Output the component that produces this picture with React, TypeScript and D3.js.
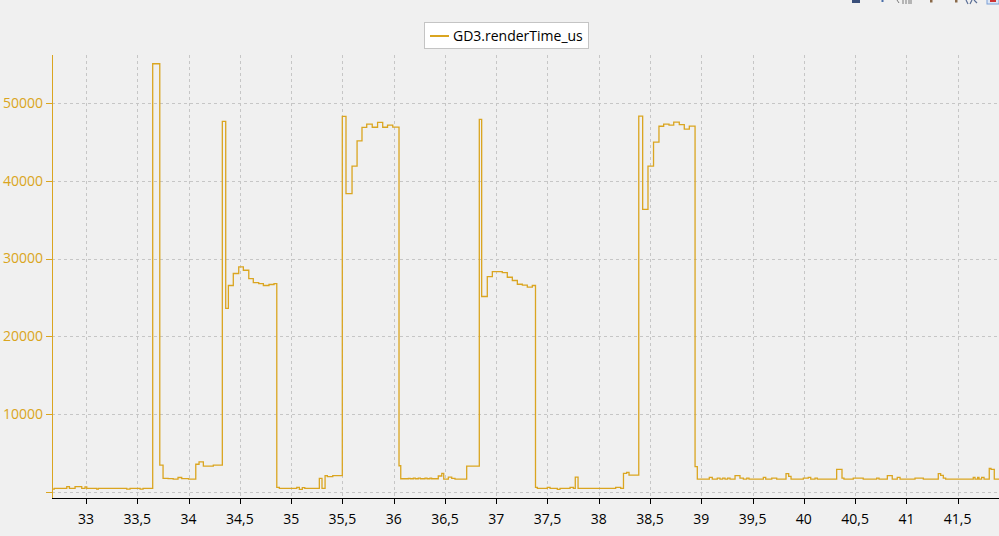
import React from "react";
import * as d3 from "d3";

// series: [time s, render time us], held until the next point (step after)
const seriesName = "GD3.renderTime_us";
const samples: [number, number][] = [
  [32.668, 420], [32.69, 510], [32.812, 720], [32.838, 510], [32.893, 720], [32.958, 510],
  [32.99, 700], [33.007, 510], [33.104, 400], [33.12, 510], [33.397, 400], [33.429, 510],
  [33.527, 400], [33.556, 510],
  [33.65, 55000], [33.719, 3500], [33.751, 1800], [33.8, 1750], [33.85, 1700], [33.897, 1900],
  [33.933, 1750], [34.0, 1700], [34.07, 3600], [34.102, 3900], [34.144, 3370], [34.241, 3500],
  [34.329, 47600], [34.362, 23600], [34.388, 26540], [34.436, 28080], [34.489, 28930],
  [34.534, 28500], [34.587, 27430], [34.631, 26920], [34.684, 26790], [34.729, 26540],
  [34.784, 26670], [34.833, 26790],
  [34.86, 640], [34.885, 510], [35.055, 640], [35.08, 385], [35.109, 600], [35.133, 510],
  [35.275, 1800], [35.301, 510], [35.331, 2130], [35.353, 2000], [35.406, 2130],
  [35.499, 48240], [35.535, 38330], [35.594, 41870], [35.643, 45100], [35.691, 46830],
  [35.737, 47240], [35.791, 46850], [35.843, 47470], [35.893, 46850], [35.94, 47110],
  [35.991, 46870],
  [36.052, 3410], [36.069, 1740], [36.143, 1790], [36.16, 1740], [36.192, 1830], [36.21, 1740],
  [36.24, 1830], [36.26, 1740], [36.306, 1830], [36.325, 1740], [36.354, 1830], [36.37, 1740],
  [36.435, 2090], [36.469, 2440], [36.488, 1700], [36.533, 1960], [36.566, 1790], [36.598, 1700],
  [36.712, 3370],
  [36.835, 47860], [36.858, 25130], [36.913, 27690], [36.962, 28330], [37.059, 28200],
  [37.108, 27600], [37.157, 27180], [37.206, 26700], [37.255, 26580], [37.303, 26320],
  [37.352, 26540],
  [37.383, 640], [37.401, 510], [37.498, 640], [37.525, 510], [37.596, 385], [37.622, 510],
  [37.72, 640], [37.752, 510], [37.771, 1960], [37.798, 510], [38.165, 640], [38.214, 510],
  [38.241, 2430], [38.272, 2560], [38.295, 2200],
  [38.39, 48290], [38.428, 36300], [38.48, 41870], [38.534, 44950], [38.587, 46980],
  [38.633, 47260], [38.685, 47130], [38.731, 47510], [38.785, 47180], [38.834, 46620],
  [38.883, 47000],
  [38.939, 3300], [38.961, 1700], [39.078, 1920], [39.107, 1700], [39.156, 1830], [39.182, 1700],
  [39.209, 1830], [39.231, 1700], [39.257, 1830], [39.28, 1700], [39.329, 2130], [39.377, 1830],
  [39.41, 1700], [39.443, 1830], [39.465, 1700], [39.605, 1920], [39.628, 1700], [39.687, 1830],
  [39.735, 1700], [39.826, 2390], [39.852, 2050], [39.875, 1700], [39.995, 1830], [40.043, 1920],
  [40.067, 1700], [40.109, 1830], [40.131, 1700], [40.32, 2950], [40.372, 1830], [40.391, 1700],
  [40.482, 1830], [40.579, 1700], [40.71, 1830], [40.733, 1700], [40.814, 2130], [40.862, 1700],
  [40.911, 1920], [40.938, 1700], [41.084, 1830], [41.165, 1700], [41.311, 2390], [41.334, 2180],
  [41.36, 1830], [41.383, 1700], [41.652, 1920], [41.669, 1700], [41.695, 1920], [41.708, 1700],
  [41.734, 1920], [41.757, 1700], [41.808, 3080], [41.825, 2950], [41.857, 1700], [41.903, 1700],
];

const xTicks = [33, 33.5, 34, 34.5, 35, 35.5, 36, 36.5, 37, 37.5, 38, 38.5, 39, 39.5, 40, 40.5, 41, 41.5];
const yTicks = [0, 10000, 20000, 30000, 40000, 50000];
const xDomain = [32.668, 41.903];
const yDomain = [-731, 56122];

const W = 999;
const H = 536;
const margin = { top: 55, left: 52, right: 0, bottom: 38 };
const color = "#DAA520";
const gridColor = "#c6c6c6";
const font = "'Open Sans', 'Noto Sans', sans-serif";

const fmtX = (v: number) => String(v).replace(".", ",");

export default function App() {
  const x = d3.scaleLinear().domain(xDomain).range([margin.left, W - margin.right]);
  const y = d3.scaleLinear().domain(yDomain).range([H - margin.bottom, margin.top]);
  const top = margin.top;
  const bottom = H - margin.bottom;

  const line = d3
    .line<[number, number]>()
    .x((d) => x(d[0]))
    .y((d) => y(d[1]))
    .curve(d3.curveStepAfter);

  return (
    <svg
      width={W}
      height={H}
      style={{ position: "absolute", left: 0, top: 0, display: "block", background: "#f0f0f0" }}
      fontFamily={font}
    >
      <rect x={0} y={0} width={W} height={H} fill="#f0f0f0" />

      {/* toolbar glyphs, clipped at top right */}
      <g>
        <rect x={852} y={0} width={8} height={3} fill="#3a4f7a" />
        <rect x={881.5} y={0} width={2} height={2} fill="#4a6ea8" />
        <path d="M897 0 L899 3 M903 0 V4 M906 0 V4 M909 0 V4 M911 0 V4" stroke="#7a7a7a" strokeWidth={1} />
        <rect x={930} y={0} width={2.5} height={2.5} fill="#8a6a4a" />
        <rect x={955} y={0} width={2.5} height={2.5} fill="#8a6a4a" />
        <path d="M966 0 L968 4 M972 0 L970 4 M974 0 L977 3" stroke="#5a6e96" strokeWidth={1.2} fill="none" />
        <rect x={987} y={-2} width={12} height={6} fill="#dde6f4" stroke="#7aa0d8" />
        <rect x={990} y={0} width={6} height={2} fill="#cc3333" />
      </g>

      {/* grid */}
      <g stroke={gridColor} strokeDasharray="3,3" strokeWidth={1}>
        {xTicks.map((t) => (
          <line key={"gx" + t} x1={Math.round(x(t)) + 0.5} x2={Math.round(x(t)) + 0.5} y1={top} y2={bottom} />
        ))}
        {yTicks.map((t) => (
          <line key={"gy" + t} x1={margin.left} x2={W} y1={Math.round(y(t)) + 0.5} y2={Math.round(y(t)) + 0.5} />
        ))}
      </g>

      {/* series */}
      <path d={line(samples) || ""} fill="none" stroke={color} strokeWidth={1.3} />

      {/* x axis */}
      <line x1={margin.left} x2={W} y1={bottom + 0.5} y2={bottom + 0.5} stroke="#000" />
      {xTicks.map((t) => (
        <g key={"xt" + t}>
          <line x1={Math.round(x(t)) + 0.5} x2={Math.round(x(t)) + 0.5} y1={bottom} y2={bottom + 6} stroke="#000" />
          <text x={x(t)} y={bottom + 26} textAnchor="middle" fontSize={14} fill="#000">
            {fmtX(t)}
          </text>
        </g>
      ))}

      {/* y axis */}
      <line x1={margin.left + 0.5} x2={margin.left + 0.5} y1={top} y2={bottom} stroke={color} />
      {yTicks.map((t) => (
        <g key={"yt" + t}>
          <line x1={margin.left - 6} x2={margin.left} y1={Math.round(y(t)) + 0.5} y2={Math.round(y(t)) + 0.5} stroke={color} />
          {t > 0 && (
            <text x={margin.left - 9} y={y(t)} dy="0.35em" textAnchor="end" fontSize={14} fill={color}>
              {t}
            </text>
          )}
        </g>
      ))}

      {/* legend */}
      <g>
        <rect x={424.5} y={22.5} width={164} height={26} fill="#fff" stroke="#c4c4c4" />
        <line x1={430} x2={449} y1={36} y2={36} stroke={color} strokeWidth={2} />
        <text x={453} y={36} dy="0.35em" fontSize={14} fill="#000">
          {seriesName}
        </text>
      </g>
    </svg>
  );
}
